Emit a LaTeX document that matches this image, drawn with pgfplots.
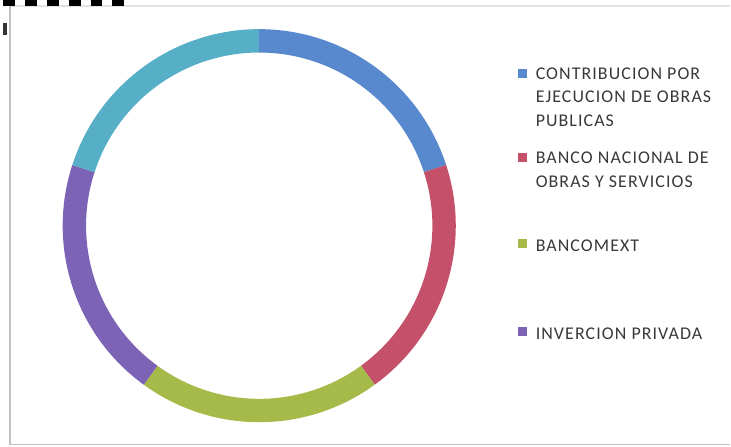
\documentclass[border=0pt]{standalone}
\usepackage{pgfplots}
\pgfplotsset{compat=1.18}
\usepackage{pgfplotstable}
\usepackage{fontspec}
\setmainfont{Carlito}
\newfontfamily\legfont{Carlito}[LetterSpace=6]
\usetikzlibrary{calc}

\definecolor{segc0}{HTML}{5889CF}
\definecolor{segc1}{HTML}{C4506A}
\definecolor{segc2}{HTML}{A6BA4A}
\definecolor{segc3}{HTML}{7C63B5}
\definecolor{segc4}{HTML}{56AFC6}
\definecolor{txt}{HTML}{383838}
\definecolor{frame}{HTML}{C0C0C0}

% partes del anillo (porcentaje)
\pgfplotstableread{
value
20
20
20
20
20
}\donut

\begin{document}
\begin{tikzpicture}
% angulos de inicio y fin de cada segmento
\def\total{0}
\pgfplotsforeachungrouped \i in {0,...,4}{%
  \pgfplotstablegetelem{\i}{value}\of\donut
  \pgfmathsetmacro\total{\total+\pgfplotsretval}}
\def\cum{0}
\pgfplotsforeachungrouped \i in {0,...,4}{%
  \pgfplotstablegetelem{\i}{value}\of\donut
  \pgfmathsetmacro\sa{90-360*(\cum/\total)}
  \pgfmathsetmacro\cum{\cum+\pgfplotsretval}
  \pgfmathsetmacro\ea{90-360*(\cum/\total)}
  \expandafter\xdef\csname sa\i\endcsname{\sa}
  \expandafter\xdef\csname ea\i\endcsname{\ea}}
\begin{axis}[
  x=0.5pt, y=0.5pt,
  xmin=0, xmax=731, ymin=0, ymax=448,
  hide axis, clip=false,
]
  \path (axis cs:0,0) rectangle (axis cs:731,448);
  % marco
  \draw[frame!45, line width=0.6pt] (axis cs:731,443) -- (axis cs:7,443);
  \draw[frame, line width=0.6pt] (axis cs:7,443) -- (axis cs:7,2) -- (axis cs:731,2);
  % resto del titulo recortado
  \draw[black, line width=3pt, dash pattern=on 6pt off 5pt] (axis cs:0,446) -- (axis cs:130,446);
  \fill[black!80] (axis cs:0,426) rectangle (axis cs:4,414);
  % anillo
  \coordinate (c) at (axis cs:257.5,222.2);
  \pgfplotsinvokeforeach{0,...,4}{
    \fill[segc#1] ($(c)+({\csname sa#1\endcsname}:98.75pt)$)
      arc[start angle={\csname sa#1\endcsname}, end angle={\csname ea#1\endcsname}, radius=98.75pt]
      -- ($(c)+({\csname ea#1\endcsname}:87pt)$)
      arc[start angle={\csname ea#1\endcsname}, end angle={\csname sa#1\endcsname}, radius=87pt] -- cycle;
  }
  % leyenda
  \fill[segc0] (axis cs:517.5,379.5) rectangle (axis cs:526.5,370.5);
  \fill[segc1] (axis cs:517.5,295.5) rectangle (axis cs:526.5,286.5);
  \fill[segc2] (axis cs:517.5,208.5) rectangle (axis cs:526.5,199.5);
  \fill[segc3] (axis cs:517.5,120.5) rectangle (axis cs:526.5,111.5);
  \begin{scope}[every node/.style={anchor=base west, inner sep=0pt, text=txt,
      font=\legfont\fontsize{9pt}{12pt}\selectfont}]
    \node at (axis cs:535,369) {CONTRIBUCION POR};
    \node at (axis cs:535,346) {EJECUCION DE OBRAS};
    \node at (axis cs:535,322) {PUBLICAS};
    \node at (axis cs:535,285) {BANCO NACIONAL DE};
    \node at (axis cs:535,261) {OBRAS Y SERVICIOS};
    \node at (axis cs:535,196) {BANCOMEXT};
    \node at (axis cs:535,108) {INVERCION PRIVADA};
  \end{scope}
\end{axis}
\end{tikzpicture}
\end{document}
